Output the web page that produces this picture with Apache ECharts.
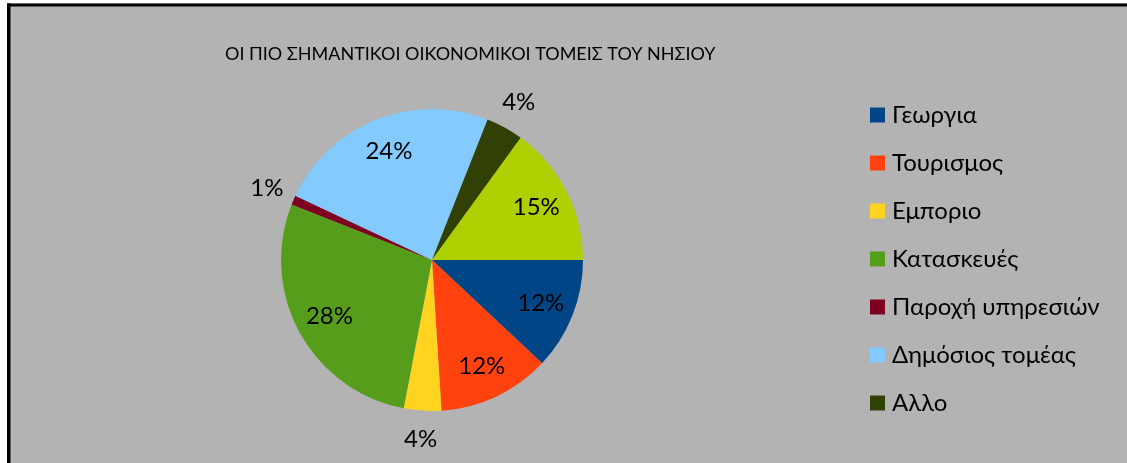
<!DOCTYPE html>
<html><head><meta charset="utf-8">
<script src="https://cdn.jsdelivr.net/npm/echarts@6/dist/echarts.min.js"></script>
<style>html,body{margin:0;padding:0;background:#fff}#c{width:1127px;height:463px}</style>
</head><body><div id="c"></div>
<script>
const titleText = 'ΟΙ ΠΙΟ ΣΗΜΑΝΤΙΚΟΙ ΟΙΚΟΝΟΜΙΚΟΙ ΤΟΜΕΙΣ ΤΟΥ ΝΗΣΙΟΥ';
const categories = ['Γεωργια','Τουρισμος','Εμποριο','Κατασκευές','Παροχή υπηρεσιών','Δημόσιος τομέας','Αλλο','Βιομηχανία'];
const legendNames = ['Γεωργια','Τουρισμος','Εμποριο','Κατασκευές','Παροχή υπηρεσιών','Δημόσιος τομέας','Αλλο'];
const values = [12,12,4,28,1,24,4,15];
const colors = ['#004586','#ff420e','#ffd320','#579d1c','#7e0021','#83caff','#314004','#aecf00'];
const outsideLabel = [false,false,true,false,true,false,true,false];

const FONT = 'Lato, "Open Sans", sans-serif';
const center = [432, 260];
const R = 151;

const pieData = categories.map((n,i)=>({name:n,value:values[i],itemStyle:{color:colors[i]}}));
const labelData = (outside)=>categories.map((n,i)=>({
  name:n, value:values[i],
  itemStyle:{color:'rgba(0,0,0,0)'},
  label:{show: outsideLabel[i]===outside}
}));
const labelSeries = (radius, outside)=>({
  type:'pie', center, radius, startAngle:0, clockwise:true, silent:true,
  legendHoverLink:false, animation:false, emphasis:{disabled:true},
  labelLine:{show:false},
  label:{position:'inside', formatter:p=>p.value+'%', color:'#000', fontFamily:FONT, fontSize:24},
  data: labelData(outside), z:5
});

const chart = echarts.init(document.getElementById('c'), null, {renderer:'canvas'});
chart.setOption({
  backgroundColor:'#b3b3b3',
  animation:false,
  color: colors,
  graphic:[
    {type:'rect', shape:{x:0,y:0,width:1127,height:3.5}, style:{fill:'#fff'}, z:100},
    {type:'rect', shape:{x:0,y:0,width:7,height:463}, style:{fill:'#fff'}, z:100},
    {type:'rect', shape:{x:7,y:3.5,width:1120,height:3}, style:{fill:'#000'}, z:101},
    {type:'rect', shape:{x:7,y:3.5,width:3.5,height:460}, style:{fill:'#000'}, z:101}
  ],
  title:{text:titleText, left:220, top:40, textStyle:{fontFamily:FONT, fontSize:18, fontWeight:'normal', color:'#000'}},
  legend:{
    data: legendNames, orient:'vertical', left:865, top:98,
    icon:'rect', itemWidth:15, itemHeight:15, itemGap:24,
    selectedMode:false,
    textStyle:{fontFamily:FONT, fontSize:24, color:'#000', lineHeight:24, padding:[0,0,0,2]}
  },
  series:[
    {type:'pie', center, radius:[0,R], startAngle:0, clockwise:true, silent:true,
     animation:false, label:{show:false}, labelLine:{show:false},
     itemStyle:{borderWidth:0}, data: pieData, z:2},
    labelSeries([77,R], false),
    labelSeries([166,188], true)
  ]
});
</script></body></html>
